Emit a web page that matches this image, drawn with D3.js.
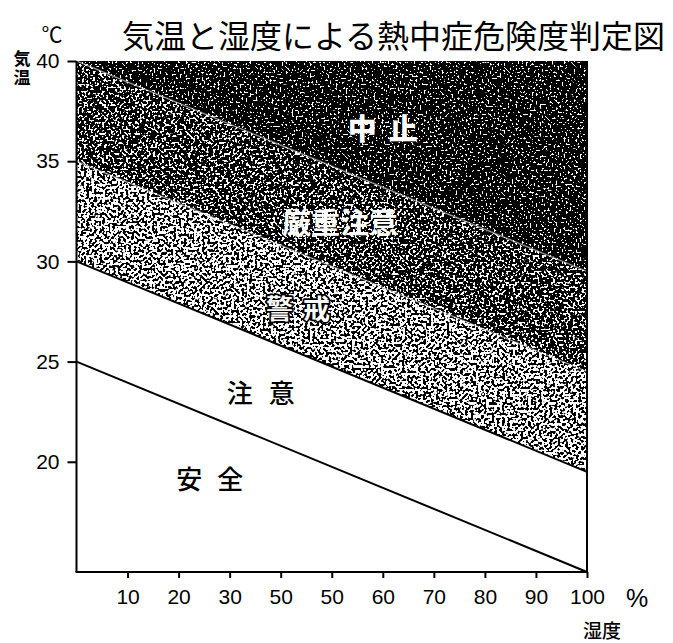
<!DOCTYPE html>
<html>
<head>
<meta charset="utf-8">
<script src="https://cdn.jsdelivr.net/npm/d3@7"></script>
<style>
  html, body { margin: 0; padding: 0; background: #fff; }
  svg { display: block; }
</style>
</head>
<body>
<div id="chart"></div>
<script>
// ---- data ----
const humidity = [0, 100];                 // 湿度 (%)
const lineSafe = [25, 14.5];               // 安全 / 注意 boundary (°C)
const lineCaution = [30, 19.5];            // 注意 / 警戒 boundary
const lineWarning = [35, 24.5];            // 警戒 / 厳重注意 boundary
const lineSevere = [40, 29.5];             // 厳重注意 / 中止 boundary
const topTemp = [40, 40];
const xTickValues = [10, 20, 30, 40, 50, 60, 70, 80, 90, 100];
const xTickLabels = ["10", "20", "30", "50", "50", "60", "70", "80", "90", "100"];
const yTickValues = [20, 25, 30, 35, 40];
const yTickLabels = ["20", "25", "30", "35", "40"];
const zoneNames = ["安全", "注意", "警戒", "厳重注意", "中止"];
const zoneLabelPos = [[26.1, 19.2], [36.1, 23.5], [43.4, 27.7], [51.6, 32.0], [60.0, 36.7]]; // [humidity, temp]

// ---- layout ----
const W = 673, H = 643;
const x = d3.scaleLinear().domain([0, 100]).range([76.5, 587]);
const y = d3.scaleLinear().domain([14.5, 40]).range([572, 61]);

const svg = d3.select("#chart").append("svg").attr("width", W).attr("height", H);
const defs = svg.append("defs");

function speckle(id, t, seed, freq) {
  const f = defs.append("filter").attr("id", id)
    .attr("x", 0).attr("y", 0).attr("width", 1).attr("height", 1)
    .attr("color-interpolation-filters", "sRGB");
  f.append("feTurbulence").attr("type", "fractalNoise").attr("baseFrequency", freq)
    .attr("numOctaves", 1).attr("seed", seed).attr("result", "n");
  f.append("feColorMatrix").attr("in", "n").attr("type", "matrix")
    .attr("values", "1 0 0 0 0  1 0 0 0 0  1 0 0 0 0  0 0 0 0 1").attr("result", "g");
  const ct = f.append("feComponentTransfer").attr("in", "g").attr("result", "b");
  const s = 40;
  ["feFuncR", "feFuncG", "feFuncB"].forEach(k =>
    ct.append(k).attr("type", "linear").attr("slope", s).attr("intercept", -s * t));
  f.append("feComposite").attr("in", "b").attr("in2", "SourceGraphic").attr("operator", "in");
}
speckle("sp-stop", 0.625, 3, 0.5);
speckle("sp-severe", 0.55, 7, 0.45);
speckle("sp-warn", 0.47, 11, 0.38);

const rows = d3.range(humidity.length).map(i => ({
  h: humidity[i], a: lineSafe[i], b: lineCaution[i], c: lineWarning[i], d: lineSevere[i], top: topTemp[i]
}));

const area = (lo, hi) => d3.area().x(r => x(r.h)).y0(r => y(r[lo])).y1(r => y(r[hi]));
const zones = [
  { lo: "b", hi: "c", fill: "#8a8a8a", filter: "sp-warn" },
  { lo: "c", hi: "d", fill: "#555", filter: "sp-severe" },
  { lo: "d", hi: "top", fill: "#222", filter: "sp-stop" }
];
zones.forEach(z => {
  svg.append("path").datum(rows).attr("d", area(z.lo, z.hi)(rows))
    .attr("fill", z.fill).attr("filter", `url(#${z.filter})`);
});

const line = key => d3.line().x(r => x(r.h)).y(r => y(r[key]));
// faint light seams between shaded zones
["c", "d"].forEach(k => {
  svg.append("path").datum(rows).attr("d", line(k)(rows))
    .attr("fill", "none").attr("stroke", "#fff").attr("stroke-opacity", 0.45).attr("stroke-width", 1.5);
});
// boundary lines
["a", "b"].forEach(k => {
  svg.append("path").datum(rows).attr("d", line(k)(rows))
    .attr("fill", "none").attr("stroke", "#000").attr("stroke-width", 2);
});

// axes frame
const axisG = svg.append("g");
axisG.append("line").attr("x1", x(0)).attr("x2", x(0)).attr("y1", y(40)).attr("y2", y(14.5))
  .attr("stroke", "#000").attr("stroke-width", 2);
axisG.append("line").attr("x1", x(100)).attr("x2", x(100)).attr("y1", y(40)).attr("y2", y(14.5))
  .attr("stroke", "#000").attr("stroke-width", 2);
axisG.append("line").attr("x1", x(0) - 1).attr("x2", x(100) + 1).attr("y1", y(14.5)).attr("y2", y(14.5))
  .attr("stroke", "#000").attr("stroke-width", 2);

const numFont = "'Liberation Sans', Arial, sans-serif";
const jpFont = "'Noto Sans CJK JP', sans-serif";

// y ticks
const yAxis = d3.axisLeft(y).tickValues(yTickValues).tickSize(9).tickPadding(8)
  .tickFormat((d, i) => yTickLabels[i]);
svg.append("g").attr("transform", `translate(${x(0)},0)`).call(yAxis)
  .call(g => g.select(".domain").remove())
  .call(g => g.selectAll("line").attr("stroke", "#000").attr("stroke-width", 2))
  .call(g => g.selectAll("text").attr("font-family", numFont).attr("font-size", 21).attr("fill", "#000"));

// x ticks
const xAxis = d3.axisBottom(x).tickValues(xTickValues).tickSize(6).tickPadding(11)
  .tickFormat((d, i) => xTickLabels[i]);
svg.append("g").attr("transform", `translate(0,${y(14.5)})`).call(xAxis)
  .call(g => g.select(".domain").remove())
  .call(g => g.selectAll("line").attr("stroke", "#000").attr("stroke-width", 2))
  .call(g => g.selectAll("text").attr("font-family", numFont).attr("font-size", 21).attr("fill", "#000"));

// zone labels
const labelStyles = [
  { fill: "#000", size: 26, spacing: 15, weight: 500 },
  { fill: "#000", size: 26, spacing: 16, weight: 500 },
  { fill: "#fff", size: 27, spacing: 10, weight: 700, stroke: "#000" },
  { fill: "#fff", size: 29, spacing: 0, weight: 700 },
  { fill: "#fff", size: 29, spacing: 12, weight: 900 }
];
zoneNames.forEach((name, i) => {
  const st = labelStyles[i];
  const t = svg.append("text")
    .attr("x", x(zoneLabelPos[i][0]) + st.spacing / 2).attr("y", y(zoneLabelPos[i][1]))
    .attr("text-anchor", "middle").attr("dominant-baseline", "central")
    .attr("font-family", jpFont).attr("font-size", st.size).attr("font-weight", st.weight)
    .attr("letter-spacing", st.spacing).attr("fill", st.fill).text(name);
  if (st.stroke) t.attr("stroke", st.stroke).attr("stroke-width", 3.5).attr("paint-order", "stroke")
    .attr("stroke-linejoin", "round");
});

// titles and axis titles
svg.append("text").attr("x", 122).attr("y", 48).attr("font-family", jpFont)
  .attr("font-size", 32).attr("font-weight", 400).attr("textLength", 543)
  .attr("fill", "#000").text("気温と湿度による熱中症危険度判定図");
svg.append("text").attr("x", 52).attr("y", 42).attr("text-anchor", "middle")
  .attr("font-family", jpFont).attr("font-size", 21).attr("fill", "#000").text("℃");
svg.append("text").attr("x", 22).attr("y", 50).attr("writing-mode", "vertical-rl")
  .attr("font-family", jpFont).attr("font-size", 17).attr("font-weight", 700)
  .attr("letter-spacing", 2).attr("fill", "#000").text("気温");
svg.append("text").attr("x", 637).attr("y", 607).attr("text-anchor", "middle")
  .attr("font-family", numFont).attr("font-size", 25).attr("fill", "#000").text("%");
svg.append("text").attr("x", 602).attr("y", 638).attr("text-anchor", "middle")
  .attr("font-family", jpFont).attr("font-size", 19).attr("font-weight", 500).attr("fill", "#000").text("湿度");
</script>
</body>
</html>
